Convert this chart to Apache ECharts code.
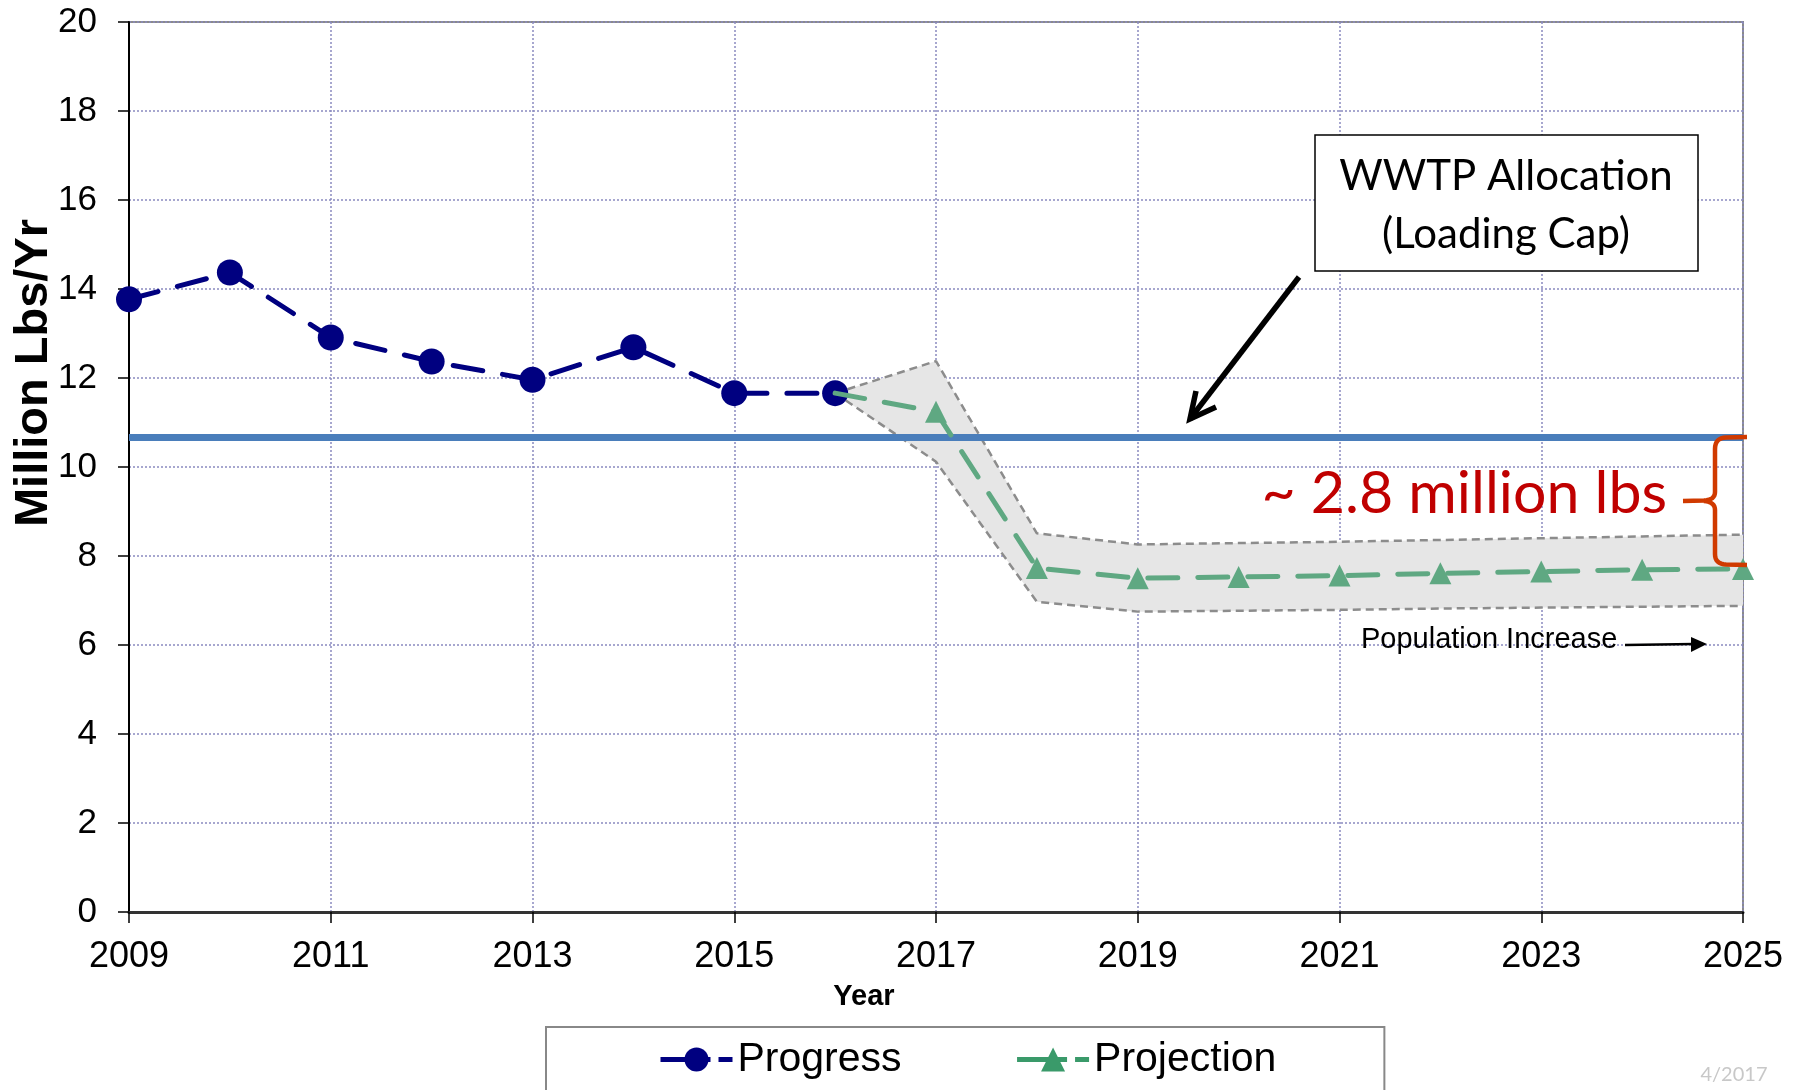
<!DOCTYPE html>
<html>
<head>
<meta charset="utf-8">
<title>WWTP Allocation</title>
<script src="https://cdn.jsdelivr.net/npm/echarts@6/dist/echarts.min.js"></script>
<style>
  html, body { margin: 0; padding: 0; background: #fff; }
  #chart { width: 1803px; height: 1090px; }
</style>
</head>
<body>
<div id="chart"></div>
<script>
const years = ['2009', '2010', '2011', '2012', '2013', '2014', '2015', '2016', '2017',
    '2018', '2019', '2020', '2021', '2022', '2023', '2024', '2025'];
const progressYears = ['2009', '2010', '2011', '2012', '2013', '2014', '2015', '2016'];
const progressValues = [13.77, 14.37, 12.91, 12.37, 11.96, 12.69, 11.66, 11.66];
const projectionYears = ['2016', '2017', '2018', '2019', '2020', '2021', '2022', '2023', '2024', '2025'];
const projectionValues = [11.66, 11.24, 7.73, 7.50, 7.53, 7.56, 7.61, 7.65, 7.69, 7.71];
const bandUpper = [11.66, 12.38, 8.51, 8.26, 8.29, 8.32, 8.36, 8.40, 8.44, 8.48];
const bandLower = [11.66, 10.12, 6.97, 6.75, 6.77, 6.79, 6.82, 6.84, 6.86, 6.88];
const loadingCap = 10.66;
const yMin = 0, yMax = 20, yStep = 2;

const navy = '#000080';
const green = '#5fa882';
const dash = [30, 20];
const legendDash = [50, 8, 14, 8];

const pairs = (xs, vs) => xs.map((x, i) => [x, vs[i]]);

// little curly brace, drawn as polylines
const quad = (p0, c, p1, n) => {
    const pts = [];
    for (let i = 0; i <= n; i++) {
        const t = i / n, u = 1 - t;
        pts.push([u * u * p0[0] + 2 * u * t * c[0] + t * t * p1[0],
                  u * u * p0[1] + 2 * u * t * c[1] + t * t * p1[1]]);
    }
    return pts;
};
const braceTop = [[1747, 437], [1726, 437.5]]
    .concat(quad([1726, 437.5], [1715, 438], [1715, 449], 8))
    .concat([[1715, 492]])
    .concat(quad([1715, 492], [1715, 500], [1704, 500.5], 8))
    .concat([[1683, 501]]);
const braceBottom = quad([1704, 501], [1715, 502], [1715, 510], 8)
    .concat([[1715, 554]])
    .concat(quad([1715, 554], [1715, 564], [1726, 564.5], 8))
    .concat([[1747, 565]]);

const options = {
    animation: false,
    grid: {
        left: 129, right: 60, top: 22, bottom: 178,
        show: true, borderColor: '#8a8a8a', borderWidth: 2
    },
    legend: {
        left: 546, top: 1027,
        padding: [12, 108, 40, 112],
        borderColor: '#888', borderWidth: 2,
        itemWidth: 72, itemHeight: 30, itemGap: 113,
        textStyle: { fontFamily: 'Liberation Sans', fontSize: 41, color: '#000' },
        data: [
            { name: 'Progress', lineStyle: { type: legendDash, cap: 'butt', width: 5 } },
            {
                name: 'Projection', itemStyle: { color: '#3a9a6a' },
                lineStyle: { color: '#3a9a6a', type: legendDash, cap: 'butt', width: 5 }
            }
        ]
    },
    xAxis: {
        type: 'category',
        data: years,
        boundaryGap: false,
        axisLine: { lineStyle: { color: '#333', width: 3 } },
        axisTick: { interval: 1, length: 11, lineStyle: { color: '#000', width: 1.5 } },
        axisLabel: { interval: 1, margin: 27, fontFamily: 'Liberation Sans', fontSize: 36, color: '#000' },
        splitLine: { show: true, interval: 1, lineStyle: { color: '#8a8ac0', width: 1.5, type: [2, 2] } }
    },
    yAxis: {
        type: 'value',
        min: yMin, max: yMax, interval: yStep,
        axisLine: { show: true, lineStyle: { color: '#000', width: 2 } },
        axisTick: { show: true, length: 11, lineStyle: { color: '#000', width: 1.5 } },
        axisLabel: { margin: 32, fontFamily: 'Liberation Sans', fontSize: 35, color: '#000' },
        splitLine: { lineStyle: { color: '#8a8ac0', width: 1.5, type: [2, 2] } }
    },
    series: [
        {
            name: 'bandLower',
            type: 'line',
            stack: 'band',
            data: pairs(projectionYears, bandLower),
            symbol: 'none',
            silent: true,
            z: 1,
            lineStyle: { color: '#8c8c8c', width: 2.5, type: [8, 5] }
        },
        {
            name: 'bandUpper',
            type: 'line',
            stack: 'band',
            data: pairs(projectionYears, bandUpper.map((v, i) => v - bandLower[i])),
            symbol: 'none',
            silent: true,
            z: 1,
            lineStyle: { color: '#8c8c8c', width: 2.5, type: [8, 5] },
            areaStyle: { color: '#e6e6e6', opacity: 1 }
        },
        {
            name: 'Loading Cap',
            type: 'line',
            data: [],
            z: 3,
            markLine: {
                silent: true,
                symbol: ['none', 'none'],
                label: { show: false },
                lineStyle: { color: '#4a7ebb', width: 7, type: 'solid' },
                data: [{ yAxis: loadingCap }]
            }
        },
        {
            name: 'Progress',
            type: 'line',
            data: pairs(progressYears, progressValues),
            z: 5,
            symbol: 'circle',
            symbolSize: 26,
            itemStyle: { color: navy },
            lineStyle: { color: navy, width: 5, type: dash, cap: 'round' }
        },
        {
            name: 'Projection',
            type: 'line',
            data: pairs(projectionYears, projectionValues).map((p, i) =>
                i === 0 ? { value: p, symbol: 'none' } : p),
            z: 6,
            symbol: 'triangle',
            symbolSize: 22,
            itemStyle: { color: green },
            lineStyle: { color: green, width: 5, type: dash, cap: 'round' }
        }
    ],
    graphic: [
        {
            type: 'text', x: 34, y: 373, rotation: Math.PI / 2,
            style: {
                text: 'Million Lbs/Yr', x: 0, y: 0, align: 'center', verticalAlign: 'middle',
                font: 'bold 47px "Liberation Sans"', fill: '#000'
            }
        },
        {
            type: 'text', x: 864, y: 997,
            style: {
                text: 'Year', align: 'center', verticalAlign: 'middle',
                font: 'bold 29px "Liberation Sans"', fill: '#000'
            }
        },
        {
            type: 'rect', z: 10,
            shape: { x: 1315, y: 135, width: 383, height: 136 },
            style: { fill: '#fff', stroke: '#000', lineWidth: 1.5 }
        },
        {
            type: 'text', z: 11, x: 1506, y: 205,
            style: {
                text: 'WWTP Allocation\n(Loading Cap)', align: 'center', verticalAlign: 'middle',
                font: '42px Lato', lineHeight: 58, fill: '#000'
            }
        },
        {
            type: 'polyline', z: 10,
            shape: { points: [[1299, 277], [1190, 419]] },
            style: { stroke: '#000', lineWidth: 5.5 }
        },
        {
            type: 'polyline', z: 10,
            shape: { points: [[1196, 391], [1190, 419], [1216, 407]] },
            style: { stroke: '#000', lineWidth: 5.5, fill: null }
        },
        {
            type: 'text', z: 10, x: 1667, y: 494,
            style: {
                text: '~ 2.8 million lbs', align: 'right', verticalAlign: 'middle',
                font: '59px Lato', fill: '#c00000'
            }
        },
        {
            type: 'polyline', z: 10,
            shape: { points: braceTop },
            style: { stroke: '#d03a00', lineWidth: 4.5, fill: null }
        },
        {
            type: 'polyline', z: 10,
            shape: { points: braceBottom },
            style: { stroke: '#d03a00', lineWidth: 4.5, fill: null }
        },
        {
            type: 'text', z: 10, x: 1361, y: 640,
            style: {
                text: 'Population Increase', align: 'left', verticalAlign: 'middle',
                font: '29px "Liberation Sans"', fill: '#000'
            }
        },
        {
            type: 'polyline', z: 10,
            shape: { points: [[1625, 645], [1694, 644]] },
            style: { stroke: '#000', lineWidth: 2.5 }
        },
        {
            type: 'polygon', z: 10,
            shape: { points: [[1707, 644], [1691, 637], [1691, 652]] },
            style: { fill: '#000' }
        },
        {
            type: 'text', x: 1734, y: 1075,
            style: {
                text: '4/2017', align: 'center', verticalAlign: 'middle',
                font: '20px Lato', fill: '#c8c8c8'
            }
        }
    ]
};

let chart = echarts.init(document.getElementById('chart'));
chart.setOption(options);
window.addEventListener('resize', function () {
    chart && chart.resize();
});
</script>
</body>
</html>
